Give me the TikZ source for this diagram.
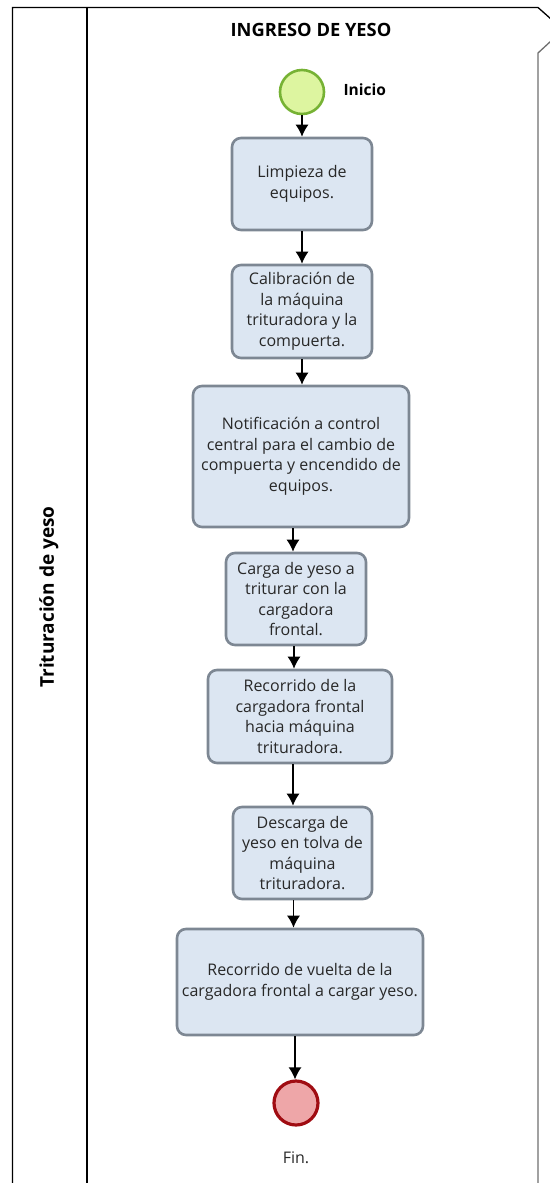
\documentclass[tikz,border=0pt]{standalone}
\usepackage{fontspec}
\setmainfont{Open Sans}
\usetikzlibrary{arrows.meta}

\definecolor{boxfill}{RGB}{220,230,242}
\definecolor{boxline}{RGB}{125,135,147}
\definecolor{boxtext}{RGB}{40,40,40}
\definecolor{startfill}{RGB}{221,245,160}
\definecolor{startline}{RGB}{118,178,52}
\definecolor{endfill}{RGB}{238,166,168}
\definecolor{endline}{RGB}{160,12,18}
\definecolor{poolgray}{RGB}{110,110,110}

\tikzset{
  task/.style={draw=boxline, line width=2.6pt, fill=boxfill, rounded corners=9pt,
    align=center, inner sep=0pt, text=boxtext, font=\fontsize{16}{20.5}\selectfont},
  startev/.style={circle, draw=startline, line width=2.6pt, fill=startfill,
    minimum size=44pt, inner sep=0pt},
  endev/.style={circle, draw=endline, line width=3.2pt, fill=endfill,
    minimum size=44pt, inner sep=0pt},
  flow/.style={line width=1.4pt, -{Latex[length=12pt,width=13pt]}},
  pool/.style={line width=1.3pt, black},
  heading/.style={font=\bfseries\fontsize{18.3}{22}\selectfont},
}

\begin{document}
\begin{tikzpicture}[x=1pt, y=-1pt]
\useasboundingbox (0,0) rectangle (549,1183);

% pool frame, lane divider and the folded corner on the right
\draw[pool] (12.5,1185) -- (12.5,7.5) -- (538,7.5) -- (551,19);
\draw[pool] (87,7.5) -- (87,1185);
\draw[line width=1.3pt, poolgray] (551,41) -- (538,53) -- (538,1185);

% titles
\node[heading] (title) at (311,30) {INGRESO DE YESO};
\node[heading, font=\bfseries\fontsize{19}{22}\selectfont, rotate=90] (lane) at (49,597) {Trituración de yeso};

% events
\node[startev] (start) at (302,92) {};
\node[font=\bfseries\fontsize{15.5}{18}\selectfont, anchor=west] (startlbl) at (340,90) {Inicio};
\node[endev] (end) at (296,1103) {};
\node[font=\fontsize{16}{19}\selectfont, text=boxtext] (endlbl) at (296,1158) {Fin.};

% tasks
\node[task, minimum width=140pt, minimum height=92pt] (b1) at (302,184)
  {Limpieza de\\equipos.};
\node[task, minimum width=140pt, minimum height=93pt] (b2) at (302,311.5)
  {Calibración de\\la máquina\\trituradora y la\\compuerta.};
\node[task, minimum width=216pt, minimum height=141pt] (b3) at (301,456.5)
  {Notificación a control\\central para el cambio de\\compuerta y encendido de\\equipos.};
\node[task, minimum width=140pt, minimum height=92pt] (b4) at (296,599)
  {Carga de yeso a\\triturar con la\\cargadora\\frontal.};
\node[task, minimum width=184pt, minimum height=93pt] (b5) at (300,716.5)
  {Recorrido de la\\cargadora frontal\\hacia máquina\\trituradora.};
\node[task, minimum width=139pt, minimum height=92pt] (b6) at (302.5,853)
  {Descarga de\\yeso en tolva de\\máquina\\trituradora.};
\node[task, minimum width=246pt, minimum height=106pt] (b7) at (300,982)
  {Recorrido de vuelta de la\\cargadora frontal a cargar yeso.};

% sequence flows
\draw[flow] (start.south) -- (start.south |- b1.north);
\draw[flow] (b1.south) -- (b1.south |- b2.north);
\draw[flow] (b2.south) -- (b2.south |- b3.north);
\draw[flow] ([xshift=-8pt]b3.south) -- ([xshift=-8pt]b3.south |- b4.north);
\draw[flow] ([xshift=-2pt]b4.south) -- ([xshift=-2pt]b4.south |- b5.north);
\draw[flow] ([xshift=-7pt]b5.south) -- ([xshift=-7pt]b5.south |- b6.north);
\draw[flow] ([xshift=-9pt]b6.south) -- ([xshift=-9pt]b6.south |- b7.north);
\draw[flow] ([xshift=-5pt]b7.south) -- ([xshift=-5pt]b7.south |- end.north);
\end{tikzpicture}
\end{document}
